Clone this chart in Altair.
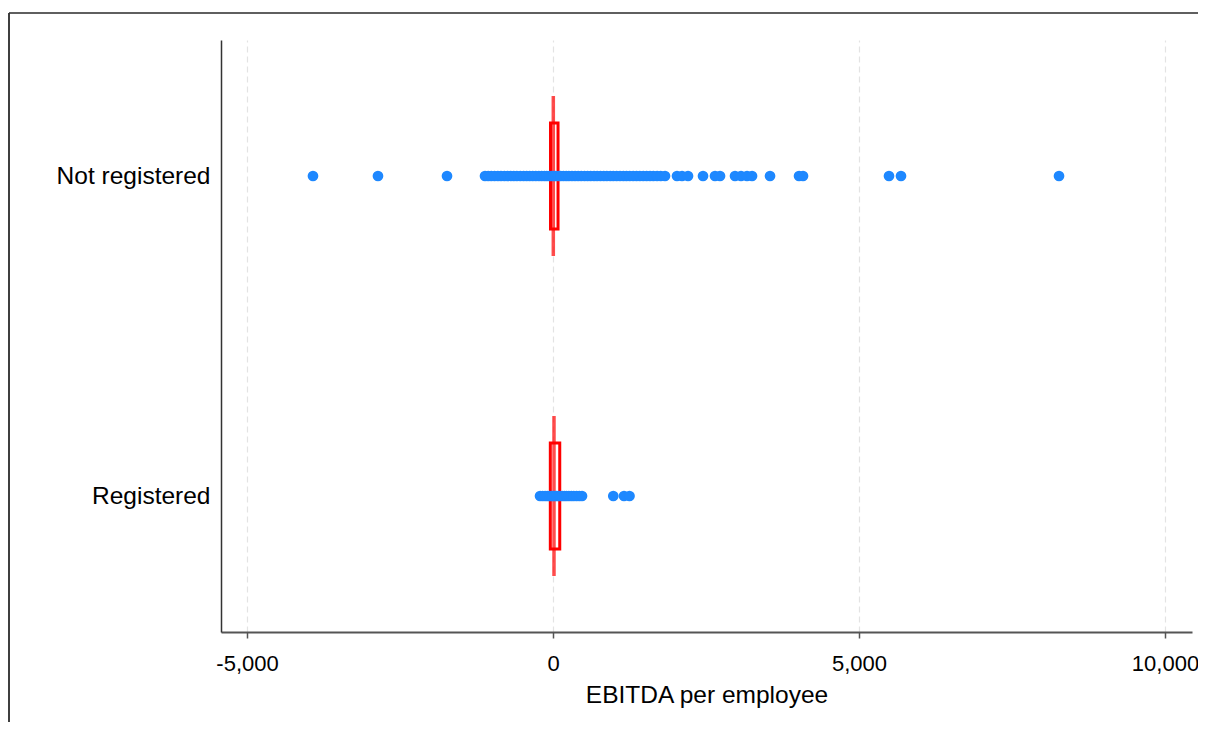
import altair as alt
import pandas as pd

groups = ["Not registered", "Registered"]

nr_points = [-3922, -2860, -1732,
             -1111, -1060, -1010, -955, -900, -850, -795, -745, -690, -640,
             -590, -535, -480, -430, -380, -330, -280, -230, -185, -140,
             -100, -60, -25, 10, 45, 85, 125, 170, 215, 260, 310, 360, 410,
             460, 515, 565, 615, 670, 720, 775, 830, 880, 935, 985, 1040,
             1095, 1150, 1200, 1255, 1310, 1365, 1420, 1475, 1530, 1585,
             1640, 1700, 1760, 1830,
             2026, 2108, 2206, 2451, 2647, 2729, 2974, 3072, 3170, 3252,
             3546, 4020, 4085, 5490, 5686, 8268]
reg_points = [-212, -170, -130, -95, -60, -30, 0, 25, 55, 85, 115, 150,
              185, 220, 260, 300, 340, 385, 430, 474,
              985, 1160, 1250]

# Box statistics
q1 = [-41, -44]
median = [5, 16]
q3 = [82, 110]

pts = pd.DataFrame({
    "group": ["Not registered"] * len(nr_points) + ["Registered"] * len(reg_points),
    "value": nr_points + reg_points,
})
box = pd.DataFrame({"group": groups, "q1": q1, "median": median, "q3": q3})

xscale = alt.Scale(domain=[-5425, 10441], nice=False, zero=False)
yscale = alt.Scale(type="point", domain=groups, padding=0.425)

x_axis = alt.Axis(values=[-5000, 0, 5000, 10000],
                  labelExpr="datum.value < 0 ? '-' + format(-datum.value, ',.0f') : format(datum.value, ',.0f')",
                  title="EBITDA per employee",
                  grid=True, gridDash=[6, 4], gridColor="#e3e3e3", gridWidth=1.2,
                  domainColor="#555555", domainWidth=2,
                  tickColor="#555555", tickSize=6, tickWidth=1.5,
                  labelFontSize=22, titleFontSize=24.5,
                  labelColor="black", titleColor="black",
                  labelPadding=15, titlePadding=9, titleFontWeight="normal")
y_axis = alt.Axis(title=None, ticks=False, grid=False,
                  domainColor="#333333", domainWidth=1.5,
                  labelFontSize=24.5, labelColor="black", labelPadding=11)

X = lambda f: alt.X(f, scale=xscale, axis=x_axis)
Y = alt.Y("group:N", scale=yscale, axis=y_axis, sort=groups)

boxes = alt.Chart(box).mark_bar(size=106, fill="white", stroke="#ff0000",
                                strokeWidth=3).encode(
    x=X("q1:Q"), x2="q3:Q", y=Y)

med = alt.Chart(box).mark_tick(size=160, thickness=3.5, color="#ff0000").encode(
    x=X("median:Q"), y=Y)

dots = alt.Chart(pts).mark_circle(size=115, color="#1e88ff", opacity=1).encode(
    x=X("value:Q"), y=Y)

frame_top = alt.Chart(box).mark_rule(color="#555555", strokeWidth=1.5).encode(
    x=alt.value(-212), x2=alt.value(985), y=alt.value(-27))
frame_left = alt.Chart(box).mark_rule(color="#333333", strokeWidth=1.5).encode(
    x=alt.value(-212), y=alt.value(-27), y2=alt.value(690))

chart = alt.layer(boxes, med, dots, frame_top, frame_left).properties(
    width=971, height=592,
    autosize=alt.AutoSizeParams(type="none"),
    padding={"left": 213, "top": 32, "right": 6, "bottom": 90},
).configure(font="Liberation Sans").configure_view(stroke=None)

chart.save("out.html", embed_options={"renderer": "svg", "actions": False})
